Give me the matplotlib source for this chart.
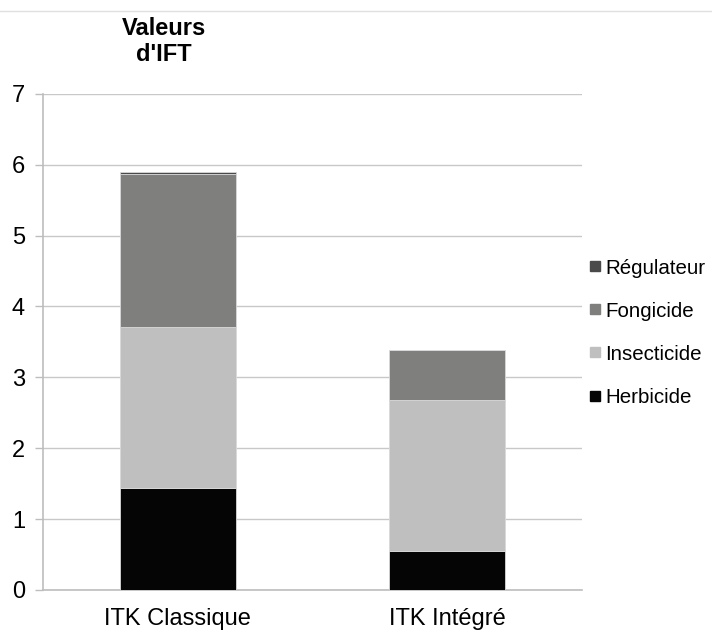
import matplotlib
matplotlib.use("Agg")
import matplotlib.pyplot as plt
from matplotlib.lines import Line2D
import numpy as np

plt.rcParams['font.family'] = ['Liberation Sans', 'DejaVu Sans']

categories = ["ITK Classique", "ITK Intégré"]
herbicide = [1.445, 0.55]
insecticide = [2.265, 2.13]
fongicide = [2.165, 0.705]
regulateur = [0.025, 0.0]
series_names = ["Herbicide", "Insecticide", "Fongicide", "Régulateur"]
series_values = [herbicide, insecticide, fongicide, regulateur]
colors = ["#050505", "#bfbfbf", "#7f7f7d", "#4a4a4a"]
yticks = [0, 1, 2, 3, 4, 5, 6, 7]

fig = plt.figure(figsize=(7.12, 6.30), dpi=100)
ax = fig.add_axes([0.0604, 0.0635, 0.757, 0.7875])

x = np.arange(len(categories))
bottom = np.zeros(len(categories))
handles = []
for name, vals, c in zip(series_names, series_values, colors):
    v = np.array(vals)
    ax.bar(x, v, bottom=bottom, width=0.43, color=c, edgecolor="#d9d9d9",
           linewidth=0.6, zorder=3, label=name)
    bottom += v
    handles.append(Line2D([], [], marker='s', linestyle='none', markersize=7.5,
                          markerfacecolor=c, markeredgecolor=c, label=name))

ax.set_xlim(-0.5, 1.5)
ax.set_ylim(0, 7)
ax.set_yticks(yticks)
ax.set_yticklabels([str(t) for t in yticks], fontsize=17)
ax.set_xticks(x)
ax.set_xticklabels(categories, fontsize=17)
ax.tick_params(axis='x', length=0, pad=13)
ax.tick_params(axis='y', length=6, color="#bdbdbd", width=1, pad=7)
ax.yaxis.grid(True, color="#c8c8c8", linewidth=1, zorder=0)
ax.set_axisbelow(True)
for s in ["top", "right"]:
    ax.spines[s].set_visible(False)
for s in ["left", "bottom"]:
    ax.spines[s].set_color("#bdbdbd")
    ax.spines[s].set_linewidth(1.2)

leg = fig.legend(handles=handles[::-1], loc="center left",
                 bbox_to_anchor=(0.826, 0.472), bbox_transform=fig.transFigure,
                 frameon=False, fontsize=14.8, handletextpad=0.12,
                 labelspacing=1.17, handlelength=0.7, borderpad=0,
                 borderaxespad=0)

fig.text(0.2296, 0.934, "Valeurs\nd'IFT", ha="center", va="center",
         fontsize=17, fontweight="bold", linespacing=1.15)

fig.add_artist(Line2D([0, 1], [0.983, 0.983], transform=fig.transFigure,
                      color="#e0e0e0", linewidth=1))

fig.savefig("out.png", dpi=100, facecolor="white")
